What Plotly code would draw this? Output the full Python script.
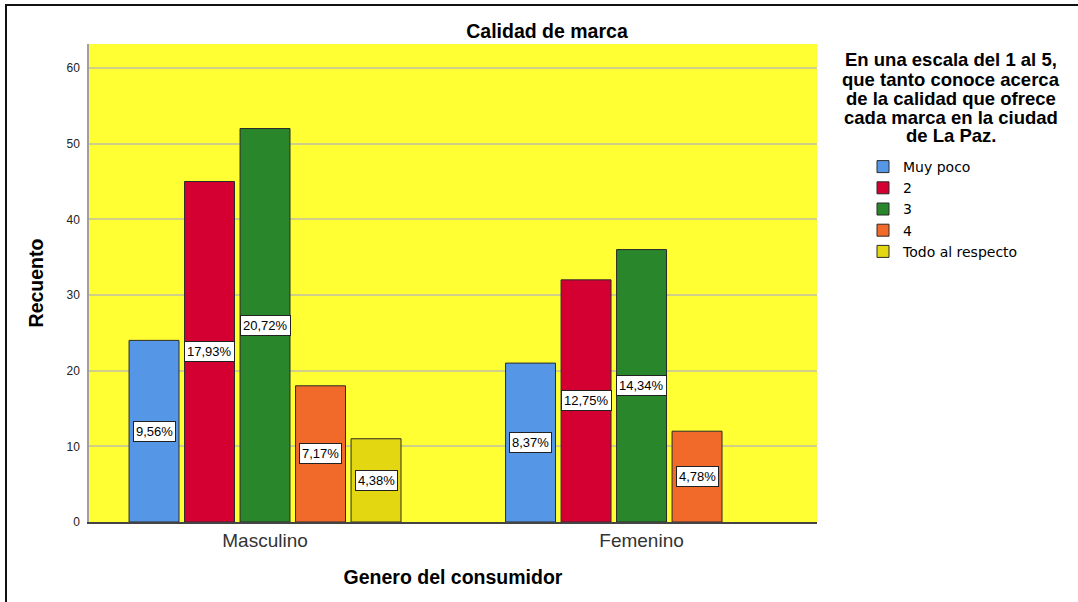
import plotly.graph_objects as go

# ---- data ----
categories = ["Masculino", "Femenino"]
series_names = ["Muy poco", "2", "3", "4", "Todo al respecto"]
counts = {
    "Muy poco": [24, 21],
    "2": [45, 32],
    "3": [52, 36],
    "4": [18, 12],
    "Todo al respecto": [11, None],
}
pct_labels = {
    "Muy poco": ["9,56%", "8,37%"],
    "2": ["17,93%", "12,75%"],
    "3": ["20,72%", "14,34%"],
    "4": ["7,17%", "4,78%"],
    "Todo al respecto": ["4,38%", None],
}
colors = ["#5596E6", "#D50032", "#29862B", "#F26A2A", "#E3D712"]
legend_title_lines = [
    "En una escala del 1 al 5,",
    "que tanto conoce acerca",
    "de la calidad que ofrece",
    "cada marca en la ciudad",
    "de La Paz.",
]
y_ticks = [0, 10, 20, 30, 40, 50, 60]

FONT = "Liberation Sans, Arial, sans-serif"
W, H = 1078, 602
ML, MR, MT, MB = 89, 261, 44, 80
BARGAP = 0.263
GROUPGAP = 0.1
n = len(series_names)
slot = (1 - BARGAP) / n
pw, ph = W - ML - MR, H - MT - MB


def px_x(x):
    return (x - ML) / pw


def px_y(y):
    return (H - MB - y) / ph


fig = go.Figure()
xs = list(range(len(categories)))
for i, name in enumerate(series_names):
    fig.add_trace(go.Bar(
        name=name, x=xs, y=counts[name],
        marker=dict(color=colors[i], line=dict(color="#2a2a2a", width=1)),
        hoverinfo="y",
    ))
    for j, lab in enumerate(pct_labels[name]):
        if lab is None:
            continue
        xc = xs[j] + (i - (n - 1) / 2) * slot
        fig.add_annotation(
            x=xc, y=counts[name][j] / 2, xref="x", yref="y",
            text=lab, showarrow=False,
            font=dict(family=FONT, size=13, color="#000"),
            bgcolor="white", bordercolor="#222", borderwidth=1, borderpad=2,
        )

# legend title as annotation lines
for k, line in enumerate(legend_title_lines):
    fig.add_annotation(
        x=px_x(951), y=px_y(60 + 19 * k), xref="paper", yref="paper", showarrow=False,
        text="<b>%s</b>" % line,
        font=dict(family=FONT, size=18.5, color="#000"),
        xanchor="center", yanchor="middle",
    )

# outer frame
fig.add_shape(type="rect", xref="paper", yref="paper",
              x0=px_x(6), x1=px_x(1095),
              y0=px_y(620), y1=px_y(5),
              line=dict(color="#111", width=2), fillcolor="rgba(0,0,0,0)", layer="above")

fig.update_layout(
    width=W, height=H,
    margin=dict(l=ML, r=MR, t=MT, b=MB, pad=0),
    paper_bgcolor="white", plot_bgcolor="#FFFF33",
    barmode="group", bargap=BARGAP, bargroupgap=GROUPGAP,
    title=dict(text="<b>Calidad de marca</b>", x=547 / W, xanchor="center",
               y=1 - 31 / H, yanchor="middle",
               font=dict(family=FONT, size=19.5, color="#000")),
    font=dict(family=FONT, color="#000"),
    showlegend=True,
    legend=dict(x=px_x(863), xanchor="left", y=px_y(151), yanchor="top",
                font=dict(family="DejaVu Sans, sans-serif", size=14, color="#000"),
                bgcolor="rgba(0,0,0,0)", tracegroupgap=0),
)
fig.update_xaxes(
    tickmode="array", tickvals=xs, ticktext=categories,
    range=[-0.4675, 1.466], showgrid=False, zeroline=False,
    showline=True, linecolor="#444", linewidth=1.5, ticks="",
    tickfont=dict(family=FONT, size=19, color="#333"),
    title=dict(text="<b>Genero del consumidor</b>", standoff=21,
               font=dict(family=FONT, size=19.5, color="#000")),
)
fig.update_yaxes(
    range=[0, 63.17], tickvals=y_ticks, showgrid=True, gridcolor="#CFCF8A", gridwidth=1.5,
    zeroline=False, showline=True, linecolor="#A0A0A0", linewidth=1.5,
    ticks="", ticklabelstandoff=5, tickfont=dict(family=FONT, size=12, color="#222"),
    title=dict(text="<b>Recuento</b>", standoff=18,
               font=dict(family=FONT, size=19.5, color="#000")),
)

fig.write_html("out.html", config={"displayModeBar": False},
               post_script="document.body.style.margin='0';")
